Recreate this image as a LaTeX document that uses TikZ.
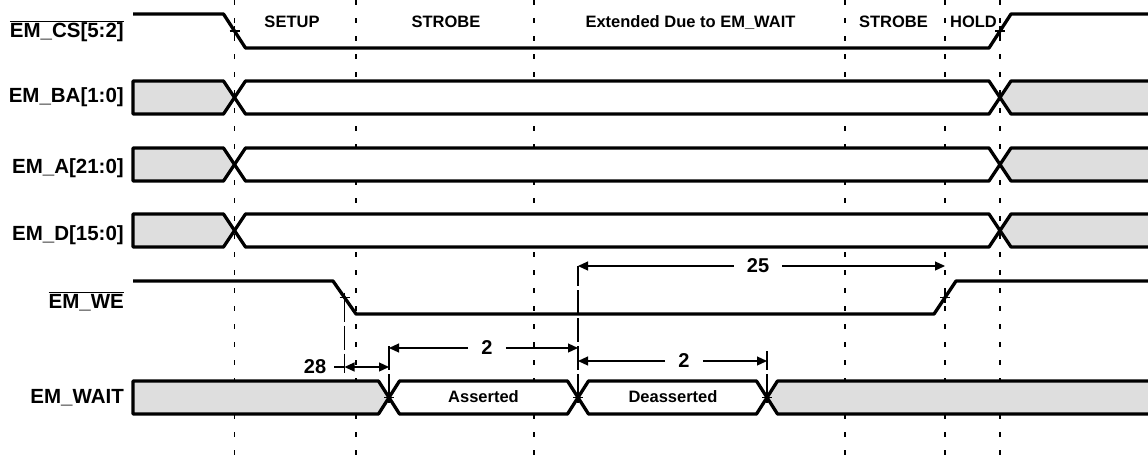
\documentclass[tikz,border=0pt]{standalone}
\usepackage{fontspec}
\setmainfont{Liberation Sans}
\usetikzlibrary{positioning,calc}
\usetikzlibrary{arrows.meta}
\definecolor{busgray}{RGB}{222,222,222}
\tikzset{
   sig/.style={line width=3.3pt, line join=round},
   bus/.style={sig, fill=busgray},
   buswhite/.style={sig, fill=white},
   marker/.style={line width=1.3pt, dash pattern=on 5pt off 13pt},
   extline/.style={line width=1.1pt, dash pattern=on 24pt off 4pt},
   dim/.style={line width=1.2pt},
   dimarr/.style={dim, -{Triangle[length=10pt,width=9pt]}},
   tick/.style={line width=1.1pt},
   siglabel/.style={anchor=base east, inner sep=0pt,
      font=\fontsize{20.5}{24}\selectfont\bfseries},
   phase/.style={anchor=base, inner sep=0pt,
      font=\fontsize{16.5}{20}\selectfont\bfseries},
   numlabel/.style={inner xsep=13pt, inner ysep=0pt,
      font=\fontsize{20}{24}\selectfont\bfseries},
}

\begin{document}
\begin{tikzpicture}[x=1pt,y=-1pt]
   \useasboundingbox (0,0) rectangle (1148,461);

   % time markers
   \coordinate (t1) at (234.5,0);
   \coordinate (t2) at (356,0);
   \coordinate (t3) at (534,0);
   \coordinate (t4) at (845,0);
   \coordinate (t5) at (945,0);
   \coordinate (t6) at (1000,0);
   \draw[marker] (t1) -- ++(0,461);
   \draw[marker] (t2) -- ++(0,461);
   \draw[marker] (t3) -- ++(0,461);
   \draw[marker] (t4) -- ++(0,461);
   \draw[marker] (t5) -- ++(0,461);
   \draw[marker] (t6) -- ++(0,461);

   % phases
   \node[phase] (setup)   at (292,27)   {SETUP};
   \node[phase] (strobe1) at (446,27)   {STROBE};
   \node[phase] (ext)     at (690.5,27) {Extended Due to EM\_WAIT};
   \node[phase] (strobe2) at (893.5,27) {STROBE};
   \node[phase] (hold)    at (973.5,27) {HOLD};

   % signal names
   \node[siglabel] (cs)   at (124,37.5) {$\overline{\hbox{EM\_CS[5:2]}}$};
   \node[siglabel] (ba)   at (124,102)  {EM\_BA[1:0]};
   \node[siglabel] (addr) at (124,173)  {EM\_A[21:0]};
   \node[siglabel] (data) at (124,240)  {EM\_D[15:0]};
   \node[siglabel] (we)   at (124,308)  {$\overline{\hbox{EM\_WE}}$};
   \node[siglabel] (wait) at (124,403)  {EM\_WAIT};

   % EM_CS
   \draw[sig] (133,14) -- (223.5,14) -- (245.5,48) -- (989,48) -- (1011,14) -- (1152,14);
   \coordinate (cs0) at (234.5,31);
   \coordinate (cs1) at (1000,31);

   % address and data buses
   \draw[bus] (133,81) -- (223.5,81) -- (234.5,97.5) -- (223.5,114) -- (133,114) -- cycle;
   \draw[buswhite] (245.5,81) -- (989,81) -- (1000,97.5) -- (989,114) -- (245.5,114) -- (234.5,97.5) -- cycle;
   \draw[bus] (1011,81) -- (1152,81) -- (1152,114) -- (1011,114) -- (1000,97.5) -- cycle;

   \draw[bus] (133,148) -- (223.5,148) -- (234.5,164.5) -- (223.5,181) -- (133,181) -- cycle;
   \draw[buswhite] (245.5,148) -- (989,148) -- (1000,164.5) -- (989,181) -- (245.5,181) -- (234.5,164.5) -- cycle;
   \draw[bus] (1011,148) -- (1152,148) -- (1152,181) -- (1011,181) -- (1000,164.5) -- cycle;

   \draw[bus] (133,214) -- (223.5,214) -- (234.5,230.5) -- (223.5,247) -- (133,247) -- cycle;
   \draw[buswhite] (245.5,214) -- (989,214) -- (1000,230.5) -- (989,247) -- (245.5,247) -- (234.5,230.5) -- cycle;
   \draw[bus] (1011,214) -- (1152,214) -- (1152,247) -- (1011,247) -- (1000,230.5) -- cycle;

   % EM_WE
   \draw[sig] (133,281) -- (333,281) -- (356,314) -- (934,314) -- (956,281) -- (1152,281);
   \coordinate (we0) at (344.5,297.5);
   \coordinate (we1) at (945,297.5);

   % EM_WAIT
   \draw[bus] (133,381) -- (378.5,381) -- (389,397.5) -- (378.5,414) -- (133,414) -- cycle;
   \draw[buswhite] (399.5,381) -- (567.5,381) -- (578,397.5) -- (567.5,414) -- (399.5,414) -- (389,397.5) -- cycle;
   \draw[buswhite] (588.5,381) -- (756.5,381) -- (767,397.5) -- (756.5,414) -- (588.5,414) -- (578,397.5) -- cycle;
   \draw[bus] (777.5,381) -- (1152,381) -- (1152,414) -- (777.5,414) -- (767,397.5) -- cycle;
   \coordinate (w1) at (389,397.5);
   \coordinate (w2) at (578,397.5);
   \coordinate (w3) at (767,397.5);
   \node[phase] (asrt)  at (483.5,402) {Asserted};
   \node[phase] (dasrt) at (673,402)   {Deasserted};

   % edge ticks
   \foreach \p in {cs0,cs1,we0,we1,w1,w2,w3}
      \draw[tick] (\p) +(-5,0) -- +(5,0) +(0,-5) -- +(0,5);

   % timing values
   \node[numlabel] (n25) at (758,266) {25};
   \node[numlabel] (n2a) at (487,348) {2};
   \node[numlabel] (n2b) at (684,361) {2};
   \node[numlabel, inner xsep=8pt] (n28) at (315,367) {28};

   \draw[extline] (w2) -- (w2 |- n25);
   \draw[extline] (w1) -- ++(0,-55);
   \draw[extline] (w3) -- ++(0,-47);
   \draw[extline] (we0) -- ++(0,75);

   \draw[dimarr] (n25.west) -- (w2 |- n25);
   \draw[dimarr] (n25.east) -- (we1 |- n25);
   \draw[dimarr] (n2a.west) -- (w1 |- n2a);
   \draw[dimarr] (n2a.east) -- (w2 |- n2a);
   \draw[dimarr] (n2b.west) -- (w2 |- n2b);
   \draw[dimarr] (n2b.east) -- (w3 |- n2b);
   \draw[dim] (n28.east) -- (we0 |- n28);
   \draw[dim, {Triangle[length=10pt,width=9pt]}-{Triangle[length=10pt,width=9pt]}]
      (we0 |- n28) -- (w1 |- n28);

\end{tikzpicture}
\end{document}
